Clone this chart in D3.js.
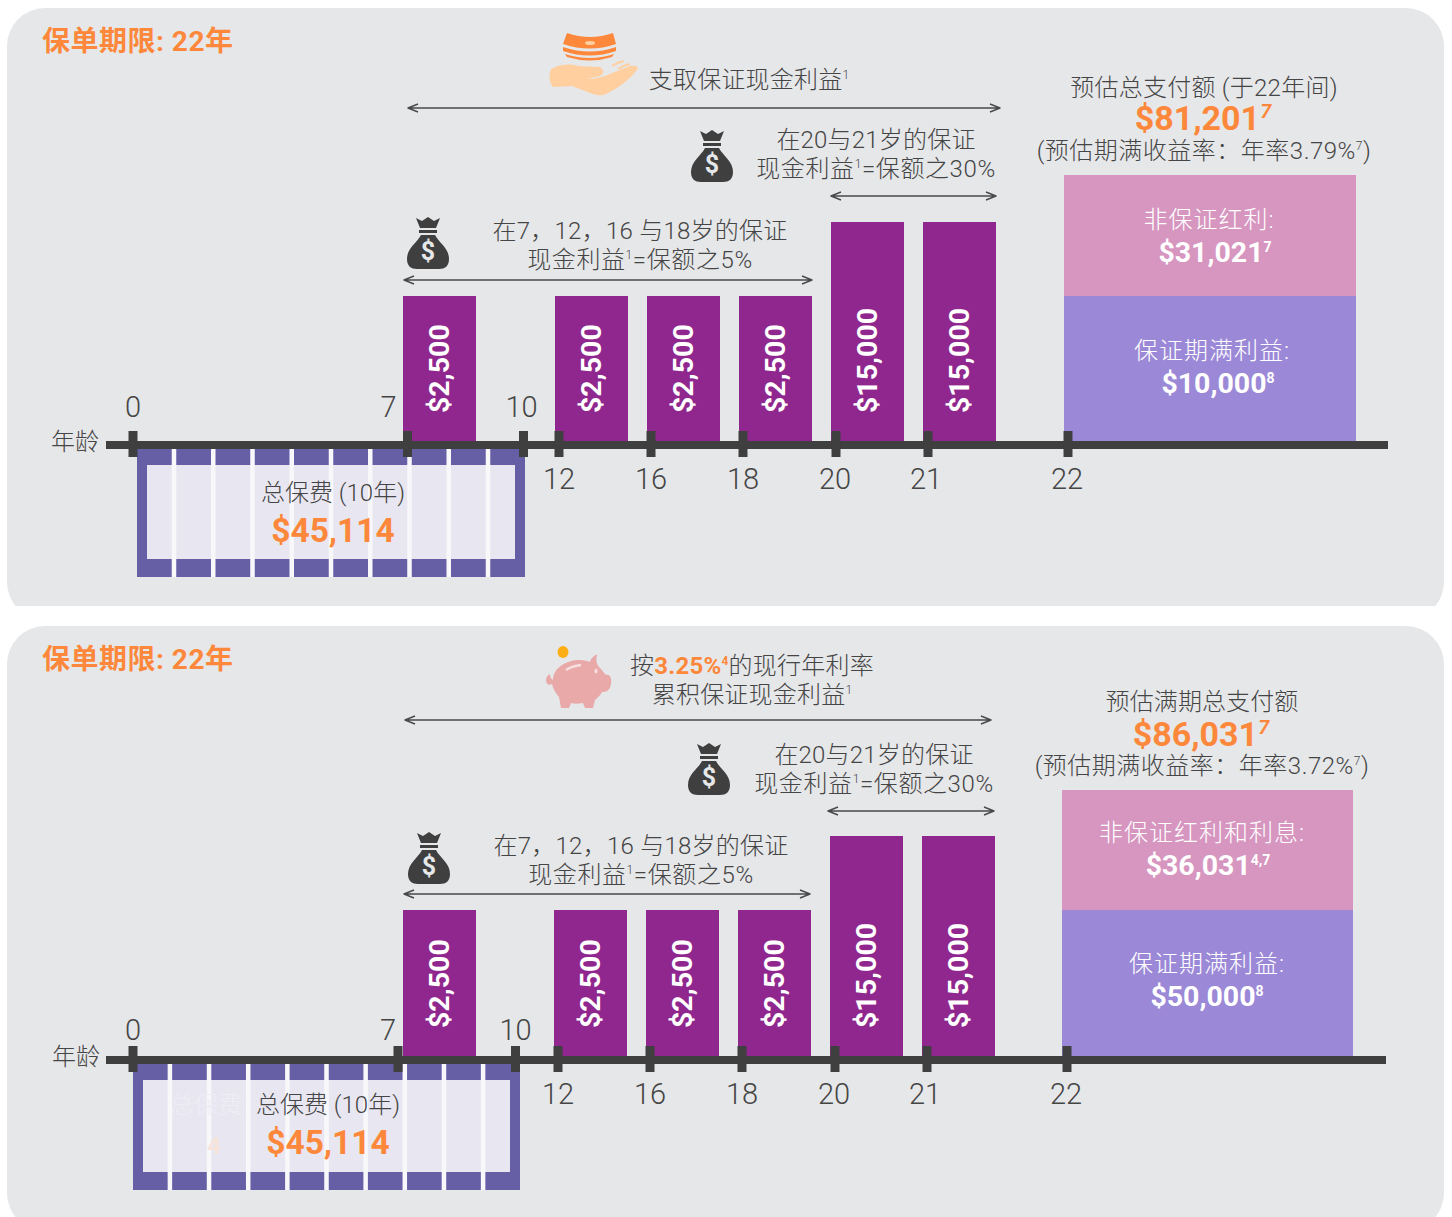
<!DOCTYPE html>
<html>
<head>
<meta charset="utf-8">
<script src="https://cdn.jsdelivr.net/npm/d3@7"></script>
<style>
    body { margin: 0; background: #fff; }
    text { font-family: Roboto, "Noto Sans CJK SC", sans-serif; font-weight: 300; fill: #454545; }
    .bold { font-weight: 700; }
</style>
</head>
<body>
<div id="chart"></div>
<script>
// ages on the timeline
var tickAges = [0, 7, 10, 12, 16, 18, 20, 21, 22];
var upperAges = [0, 7, 10];

// guaranteed cash payouts, same in both plans
var cashAges = [7, 12, 16, 18, 20, 21];
var cashValues = [2500, 2500, 2500, 2500, 15000, 15000];

var premiumYears = [1, 2, 3, 4, 5, 6, 7, 8, 9, 10];
var premiumTotal = "$45,114";

var titleText = "保单期限: 22年";

// top plan: cash taken out
var totalA = "$81,201";
var stackValuesA = [10000, 31021];
var stackLabelsA = ["保证期满利益:", "非保证红利:"];
var stackAmountsA = ["$10,000^8^", "$31,021^7^"];

// bottom plan: cash accumulated
var totalB = "$86,031";
var stackValuesB = [50000, 36031];
var stackLabelsB = ["保证期满利益:", "非保证红利和利息:"];
var stackAmountsB = ["$50,000^8^", "$36,031^4,7^"];

var orange = "#fd873a";

var svg = d3.select("#chart").append("svg")
    .attr("width", 1452)
    .attr("height", 1217)
    .style("display", "block");

// text with ^n^ superscripts, split into tspans
function richText(parent, x, y, str, size, opts) {
    opts = opts || {};
    var t = parent.append("text")
        .attr("x", x)
        .attr("y", y)
        .attr("text-anchor", opts.anchor || "middle")
        .style("font-size", size + "px");
    if (opts.bold) t.attr("class", "bold");
    if (opts.fill) t.style("fill", opts.fill);
    if (opts.spacing) t.style("letter-spacing", opts.spacing + "px");

    var rise = Math.round(size * 0.36);
    var pending = 0;
    str.split("^").forEach(function(piece, i) {
        if (piece === "") return;
        var isSup = i % 2 === 1;
        var s = t.append("tspan").text(piece);
        if (opts.fill) s.style("fill", opts.fill);
        if (isSup) {
            s.attr("dy", -rise)
                .style("font-size", Math.round(opts.supSize || size * 0.5) + "px")
                .style("font-style", opts.supItalic ? "italic" : "normal");
            pending = rise;
        } else if (pending) {
            s.attr("dy", pending);
            pending = 0;
        }
    });
    return t;
}

function doubleArrow(parent, x0, x1, y) {
    parent.append("path")
        .attr("d", "M" + x0 + "," + y + "H" + x1 +
            "M" + (x0 + 10) + "," + (y - 4) + "L" + x0 + "," + y + "L" + (x0 + 10) + "," + (y + 4) +
            "M" + (x1 - 10) + "," + (y - 4) + "L" + x1 + "," + y + "L" + (x1 - 10) + "," + (y + 4))
        .attr("fill", "none")
        .attr("stroke", "#4a4a4a")
        .attr("stroke-linejoin", "round")
        .attr("stroke-width", 1.4);
}

function moneyBag(parent, x, y) {
    var g = parent.append("g").attr("transform", "translate(" + x + "," + y + ")");
    g.append("path")
        .attr("fill", "#3f3f3f")
        .attr("d", "M9,1 L15,4 L21,0 L27,4 L33,1 L29,11 H13 Z M12,13 H30 V16 H12 Z " +
            "M14,18 H28 C32,26 42,31 42,42 C42,49 38,52 32,52 H10 C4,52 0,49 0,42 C0,31 10,26 14,18 Z");
    g.append("text")
        .attr("x", 21)
        .attr("y", 43)
        .attr("text-anchor", "middle")
        .attr("class", "bold")
        .style("font-size", "25px")
        .style("fill", "#e6e7e9")
        .text("$");
}

function handIcon(parent) {
    parent.append("path")
        .attr("fill", "#ffcf9f")
        .attr("d", "M551,69 Q565,62 578,66 L600,67 Q607,72 600,76 L587,79 Q600,79 612,73 L630,66 " +
            "Q640,65 637,70 Q625,85 606,94 Q600,97 590,93 L572,86 L553,87 Q547,80 551,69 Z");
    parent.append("path")
        .attr("fill", "none")
        .attr("stroke", "#ffcf9f")
        .attr("stroke-width", 2)
        .attr("d", "M612,66 Q618,62 624,61 M618,69 Q624,65 630,64");
    parent.append("path")
        .attr("fill", orange)
        .attr("d", "M567,33 Q590,41 613,33 L616,44 Q590,53 563,44 Z " +
            "M563,47 Q590,56 616,47 L616,51 Q590,60 563,51 Z " +
            "M565,54 Q590,62 614,54 L612,57 Q590,64 567,57 Z");
    parent.append("ellipse")
        .attr("cx", 590).attr("cy", 43).attr("rx", 5).attr("ry", 2)
        .attr("fill", "#ffcf9f");
}

function pigIcon(parent) {
    parent.append("ellipse")
        .attr("cx", 563).attr("cy", 652).attr("rx", 5.5).attr("ry", 6)
        .attr("fill", "#fdae15");
    parent.append("path")
        .attr("fill", "#e9a9a9")
        .attr("d", "M553,680 C553,668 566,660 580,660 C584,660 588,661 590,662 C591,658 596,654 597,655 " +
            "C596,660 596,664 600,668 C603,671 604,673 606,675 C610,674 612,678 611,684 C610,691 606,692 602,692 " +
            "C600,696 597,698 595,700 L593,708 H585 L583,703 C578,704 574,704 571,703 L569,708 H561 L559,697 " +
            "C555,693 553,688 552,684 C549,686 546,684 546,680 C546,677 548,675 550,674 C550,677 551,679 553,680 Z");
    parent.append("path")
        .attr("fill", "none")
        .attr("stroke", "#f6dede")
        .attr("stroke-width", 2.5)
        .attr("d", "M566,670 Q572,666 581,665");
    parent.append("ellipse")
        .attr("cx", 596).attr("cy", 671).attr("rx", 1.5).attr("ry", 2.5)
        .attr("fill", "#f6dede");
}

PolicyPanel = function(_parent, _config) {
    this.parent = _parent;
    this.config = _config;
    this.initVis();
}

PolicyPanel.prototype.initVis = function() {
    var vis = this;
    var c = vis.config;

    vis.g = vis.parent.append("g");

    // background card, clipped flat where the source crop stops
    vis.g.append("clipPath").attr("id", c.id)
        .append("rect")
        .attr("x", 0).attr("y", c.top)
        .attr("width", 1452).attr("height", c.bottom - c.top);
    vis.g.append("rect")
        .attr("x", 7).attr("y", c.top)
        .attr("width", 1437).attr("height", c.bottom - c.top + 14)
        .attr("rx", 38).attr("ry", 38)
        .attr("fill", "#e6e7e9")
        .attr("clip-path", "url(#" + c.id + ")");

    // ages are not evenly spaced in the picture, so piecewise scales
    vis.x = d3.scaleLinear().domain(tickAges).range(c.tickX);
    vis.xBar = d3.scaleOrdinal().domain(cashAges).range(c.barX);
    vis.barHeight = d3.scaleLinear().domain([2500, 15000]).range(c.barH);
    vis.stackHeight = d3.scaleOrdinal().domain(c.stackValues).range(c.stackH);
    vis.xPremium = d3.scaleBand()
        .domain(premiumYears)
        .range(c.premiumX)
        .paddingInner(0.115);

    vis.updateVis();
}

PolicyPanel.prototype.updateVis = function() {
    var vis = this;
    var c = vis.config;
    var g = vis.g;

    richText(g, 42, c.titleY, titleText, 28, { anchor: "start", bold: true, fill: orange, spacing: 0.5 });

    // premium blocks sit under the axis: white gaps, light middle, purple frame
    var boxTop = c.axisY + 4, boxBottom = c.premiumBottom;
    var innerTop = boxTop + 16, innerBottom = boxBottom - 18;
    var bw = vis.xPremium.bandwidth();
    g.append("rect")
        .attr("x", c.premiumX[0]).attr("y", boxTop)
        .attr("width", c.premiumX[1] - c.premiumX[0]).attr("height", boxBottom - boxTop)
        .attr("fill", "#f8f8fb");
    g.selectAll(".premium-inner").data(premiumYears).enter().append("rect")
        .attr("class", "premium-inner")
        .attr("x", function(d) { return vis.xPremium(d); })
        .attr("y", innerTop)
        .attr("width", bw)
        .attr("height", innerBottom - innerTop)
        .attr("fill", "#e8e7f1");
    g.selectAll(".premium-top").data(premiumYears).enter().append("rect")
        .attr("class", "premium-top")
        .attr("x", function(d) { return vis.xPremium(d); })
        .attr("y", boxTop)
        .attr("width", bw)
        .attr("height", innerTop - boxTop)
        .attr("fill", "#675fa6");
    g.selectAll(".premium-bottom").data(premiumYears).enter().append("rect")
        .attr("class", "premium-bottom")
        .attr("x", function(d) { return vis.xPremium(d); })
        .attr("y", innerBottom)
        .attr("width", bw)
        .attr("height", boxBottom - innerBottom)
        .attr("fill", "#675fa6");
    g.selectAll(".premium-side").data(c.premiumX).enter().append("rect")
        .attr("class", "premium-side")
        .attr("x", function(d, i) { return i === 0 ? d : d - 10; })
        .attr("y", boxTop)
        .attr("width", 10)
        .attr("height", boxBottom - boxTop)
        .attr("fill", "#675fa6");

    // faint leftovers showing through the lower card of the source
    if (c.ghost) {
        g.append("text")
            .attr("x", 170).attr("y", c.premiumTextY)
            .style("font-size", "24px").style("fill", "#eeedf5")
            .text("总保费");
        g.append("text")
            .attr("x", 207).attr("y", c.premiumAmountY)
            .attr("class", "bold")
            .style("font-size", "24px").style("fill", "#f6e4db")
            .text("4");
    }

    richText(g, c.premiumCx, c.premiumTextY, "总保费 (10年)", 24);
    richText(g, c.premiumCx, c.premiumAmountY, premiumTotal, 33.5, { bold: true, fill: orange });

    // cash bars
    var bars = g.selectAll(".bar").data(cashAges.map(function(d, i) {
        return { age: d, value: cashValues[i] };
    }));
    bars.enter().append("rect")
        .attr("class", "bar")
        .attr("x", function(d) { return vis.xBar(d.age); })
        .attr("y", function(d) { return c.axisY - 4 - vis.barHeight(d.value); })
        .attr("width", 73)
        .attr("height", function(d) { return vis.barHeight(d.value); })
        .attr("fill", "#90278e");
    g.selectAll(".bar-label").data(cashAges.map(function(d, i) {
        return { age: d, value: cashValues[i] };
    })).enter().append("text")
        .attr("class", "bar-label bold")
        .attr("transform", function(d) {
            return "translate(" + (vis.xBar(d.age) + 46) + "," + (c.axisY - 32) + ") rotate(-90)";
        })
        .style("font-size", "28.5px")
        .style("fill", "#fff")
        .text(function(d) { return "$" + d3.format(",")(d.value); });

    // maturity stack
    var stackBase = c.axisY - 4;
    c.stackValues.forEach(function(v, i) {
        var h = vis.stackHeight(v);
        var below = i === 0 ? 0 : vis.stackHeight(c.stackValues[0]);
        g.append("rect")
            .attr("x", c.stackX[0])
            .attr("y", stackBase - below - h)
            .attr("width", c.stackX[1] - c.stackX[0])
            .attr("height", h)
            .attr("fill", i === 0 ? "#9b89d7" : "#d696c0");
        richText(g, c.stackLabelX[i], c.stackLabelY[i], c.stackLabels[i], 24, { fill: "#fff", spacing: 1 });
        richText(g, c.stackAmountX[i], c.stackLabelY[i] + 34, c.stackAmounts[i], 28.5, {
            bold: true, fill: "#fff", supSize: 14
        });
    });

    // axis: the domain is drawn by hand because it runs past the age range
    g.append("line")
        .attr("x1", 106).attr("x2", c.axisEnd)
        .attr("y1", c.axisY).attr("y2", c.axisY)
        .attr("stroke", "#3f3f3f")
        .attr("stroke-width", 8);
    var axis = g.append("g")
        .attr("class", "x-axis")
        .attr("transform", "translate(0," + c.axisY + ")")
        .call(d3.axisBottom(vis.x).tickValues(tickAges).tickFormat(d3.format("d")).offset(0));
    axis.select(".domain").remove();
    axis.selectAll(".tick line")
        .attr("y1", -14)
        .attr("y2", 12)
        .attr("stroke", "#3f3f3f")
        .attr("stroke-width", 9);
    axis.selectAll(".tick text")
        .attr("y", function(d) { return upperAges.indexOf(d) >= 0 ? c.upperLabelDy : c.lowerLabelDy; })
        .attr("dy", 0)
        .attr("dx", function(d) { return c.labelDx[tickAges.indexOf(d)]; })
        .attr("font-family", null)
        .style("font-size", "29px");
    richText(g, c.ageLabelX, c.axisY + 5, "年龄", 24);

    // annotations
    c.notes.forEach(function(n) {
        richText(g, n[0], n[1], n[2], 24, { supSize: 12, spacing: n[3] });
    });
    c.arrows.forEach(function(a) { doubleArrow(g, a[0], a[1], a[2]); });
    c.bags.forEach(function(b) { moneyBag(g, b[0], b[1]); });

    richText(g, c.totalX, c.totalY, c.total + "^7^", 34, {
        bold: true, fill: orange, supSize: 20, supItalic: true
    });

    c.icon(g);
    if (c.extra) c.extra(g);
}

new PolicyPanel(svg, {
    id: "cardA", top: 8, bottom: 606, titleY: 51,
    axisY: 445, axisEnd: 1388, ageLabelX: 75,
    tickX: [133, 407.5, 523.5, 559, 651, 743, 836, 928, 1068],
    labelDx: [0, -19, -2, 0, 0, 0, -1, -2, -1],
    upperLabelDy: -28, lowerLabelDy: 44,
    barX: [403, 555, 647, 739, 831, 923], barH: [145, 219],
    premiumX: [137, 525], premiumBottom: 577, premiumCx: 333,
    premiumTextY: 501, premiumAmountY: 542,
    stackX: [1064, 1356],
    stackValues: stackValuesA, stackH: [145, 121],
    stackLabels: stackLabelsA, stackAmounts: stackAmountsA,
    stackLabelX: [1212, 1209], stackLabelY: [359, 228], stackAmountX: [1218, 1215],
    total: totalA, totalX: 1203, totalY: 130,
    notes: [
        [749, 88, "支取保证现金利益^1^", 0.2],
        [876, 148, "在20与21岁的保证", 0.2],
        [876, 177, "现金利益^1^=保额之30%", 0.6],
        [640, 239, "在7，12，16 与18岁的保证", 0.25],
        [640, 268, "现金利益^1^=保额之5%", 0.6],
        [1204, 96, "预估总支付额 (于22年间)", 0.25],
        [1204, 159, "(预估期满收益率：年率3.79%^7^)", 0.5]
    ],
    arrows: [[408, 1000, 108], [831, 996, 196], [404, 812, 280]],
    bags: [[691, 130], [407, 217]],
    icon: handIcon
});

new PolicyPanel(svg, {
    id: "cardB", top: 626, bottom: 1217, titleY: 669, ghost: true,
    axisY: 1060, axisEnd: 1386, ageLabelX: 76,
    tickX: [133, 398, 515.5, 558, 650, 742, 835, 927, 1067],
    labelDx: [0, -10, 0, 0, 0, 0, -1, -2, -1],
    upperLabelDy: -20, lowerLabelDy: 44,
    barX: [403, 554, 646, 738, 830, 922], barH: [146, 220],
    premiumX: [133, 520], premiumBottom: 1190, premiumCx: 328,
    premiumTextY: 1113, premiumAmountY: 1154,
    stackX: [1062, 1353],
    stackValues: stackValuesB, stackH: [146, 120],
    stackLabels: stackLabelsB, stackAmounts: stackAmountsB,
    stackLabelX: [1207, 1202], stackLabelY: [972, 841], stackAmountX: [1207, 1208],
    total: totalB, totalX: 1201, totalY: 746,
    notes: [
        [752, 703, "累积保证现金利益^1^", 0.2],
        [874, 763, "在20与21岁的保证", 0.2],
        [874, 792, "现金利益^1^=保额之30%", 0.6],
        [641, 854, "在7，12，16 与18岁的保证", 0.25],
        [641, 883, "现金利益^1^=保额之5%", 0.6],
        [1202, 710, "预估满期总支付额", 0.1],
        [1202, 774, "(预估期满收益率：年率3.72%^7^)", 0.5]
    ],
    arrows: [[405, 991, 720], [828, 994, 811], [404, 810, 894]],
    bags: [[688, 743], [408, 832]],
    icon: pigIcon,
    extra: function(g) {
        // the rate is highlighted inside the sentence
        var t = g.append("text")
            .attr("x", 752).attr("y", 674)
            .attr("text-anchor", "middle")
            .style("letter-spacing", "0.25px")
            .style("font-size", "24px");
        t.append("tspan").text("按");
        t.append("tspan").attr("class", "bold").style("fill", orange).text("3.25%");
        t.append("tspan").attr("class", "bold").attr("dy", -9).style("fill", orange).style("font-size", "12px").text("4");
        t.append("tspan").attr("dy", 9).text("的现行年利率");
    }
});
</script>
</body>
</html>
